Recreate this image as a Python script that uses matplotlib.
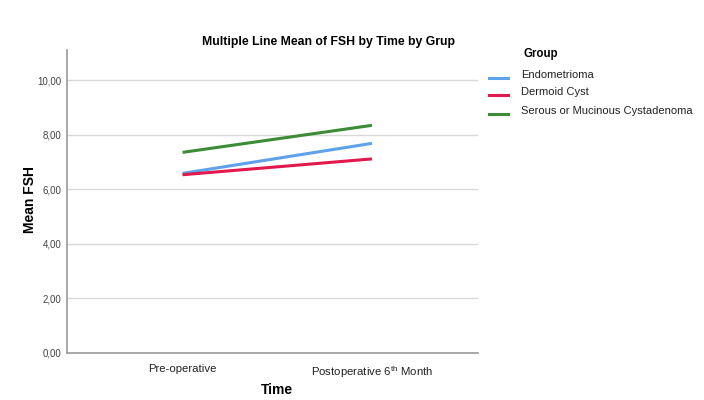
import matplotlib
matplotlib.use("Agg")
import matplotlib.pyplot as plt
from matplotlib.ticker import FuncFormatter
from matplotlib.lines import Line2D

plt.rcParams['font.family'] = ['Liberation Sans', 'DejaVu Sans']
plt.rcParams['mathtext.fontset'] = 'custom'
plt.rcParams['mathtext.rm'] = 'Liberation Sans'

categories = ["Pre-operative", "Postoperative 6$^{\\rm th}$ Month"]
groups = ["Endometrioma", "Dermoid Cyst", "Serous or Mucinous Cystadenoma"]
endometrioma = [6.58, 7.68]
dermoid = [6.53, 7.11]
serous = [7.35, 8.34]
yticks = [0, 2, 4, 6, 8, 10]
colors = ["#5ea2ea", "#e2194d", "#3b8c35"]

fig = plt.figure(figsize=(7.04, 4.0), dpi=100)
ax = fig.add_axes([67/704, 1-353/400, 411/704, 303/400])

x = list(range(len(categories)))
for vals, c, g in zip([endometrioma, dermoid, serous], colors, groups):
    ax.plot(x, vals, color=c, lw=2.2, label=g, solid_capstyle='butt')

ax.set_xlim(-0.61, 1.56)
ax.set_ylim(0, 11.1)
ax.set_yticks(yticks)
ax.yaxis.set_major_formatter(FuncFormatter(lambda v, p: f"{v:.2f}".replace('.', ',')))
ax.set_xticks(x)
ax.set_xticklabels(categories, fontsize=8.2, color="#222222")
ax.tick_params(axis='y', labelsize=7, colors="#444444", length=0, pad=4)
ax.tick_params(axis='x', length=0, pad=8)
ax.grid(axis='y', color="#d9d9d9", lw=1)
ax.set_axisbelow(True)
for s in ['top', 'right']:
    ax.spines[s].set_visible(False)
for s in ['left', 'bottom']:
    ax.spines[s].set_color("#999999")
    ax.spines[s].set_linewidth(1.2)

fig.text(30/704, 1-200/400, "Mean FSH", fontsize=10, fontweight='bold',
         rotation=90, ha='center', va='center')
fig.text(277/704, 1-390/400, "Time", fontsize=10, fontweight='bold',
         ha='center', va='center')
fig.text(328/704, 1-42/400, "Multiple Line Mean of FSH by Time by Grup",
         ha='center', va='center', fontsize=8.8, fontweight='bold')

fig.text(523/704, 1-54/400, "Group", fontsize=8.3, fontweight='bold', va='center')
ys = [75, 92, 111]
for yy, c, g in zip(ys, colors, groups):
    fig.add_artist(Line2D([489/704, 508/704], [1-(yy+3)/400]*2, color=c, lw=2.2))
    fig.text(521/704, 1-yy/400, g, fontsize=8, va='center', color="#222222")

fig.savefig("out.png", dpi=100)
